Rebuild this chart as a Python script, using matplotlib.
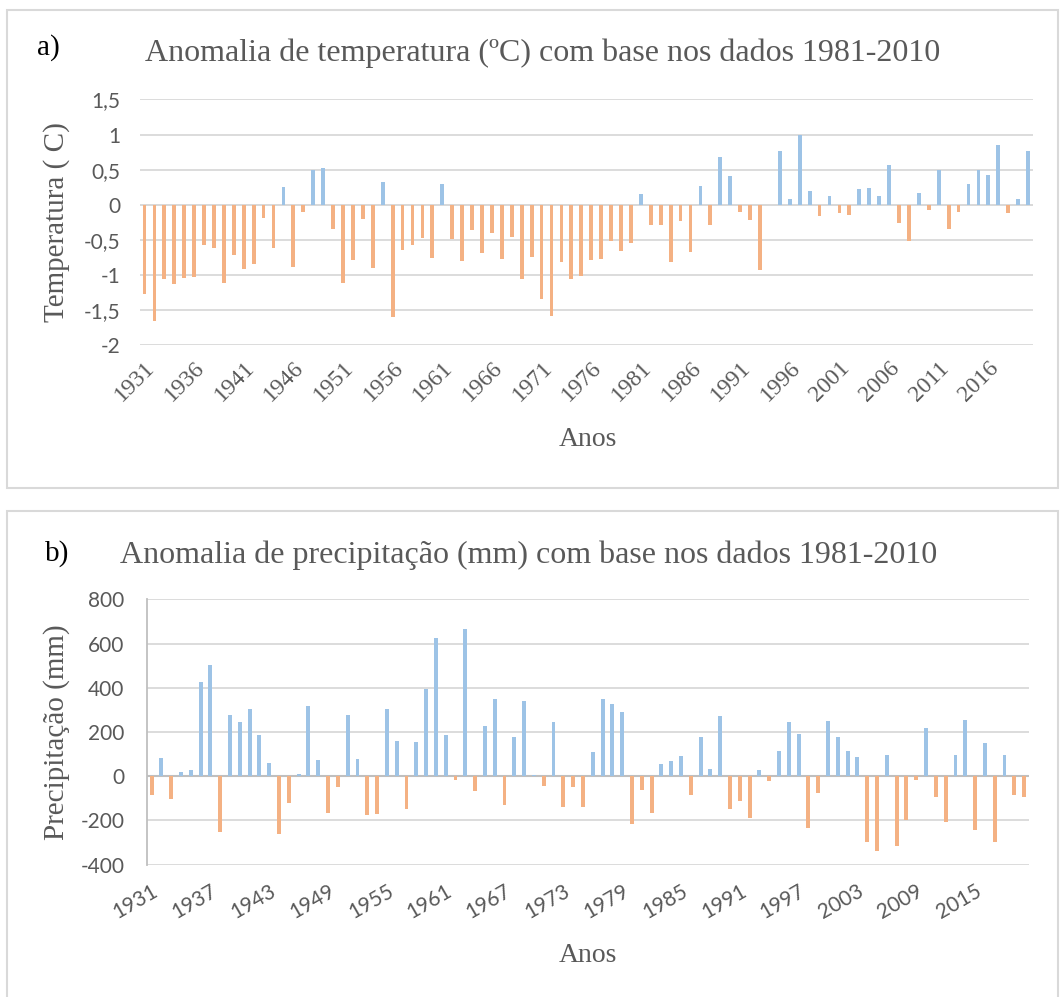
import matplotlib
matplotlib.use("Agg")
import matplotlib.pyplot as plt
from matplotlib.patches import Rectangle

# anomaly data, one value per year 1931-2020
years = list(range(1931, 2021))

temp_anom = [
    -1.27, -1.66, -1.06, -1.13, -1.04, -1.03, -0.57, -0.62, -1.12, -0.72,  # 1931-1940
    -0.92, -0.85, -0.19, -0.62, 0.25, -0.89, -0.10, 0.49, 0.52, -0.35,     # 1941-1950
    -1.11, -0.79, -0.20, -0.90, 0.33, -1.60, -0.65, -0.57, -0.47, -0.76,   # 1951-1960
    0.29, -0.49, -0.80, -0.36, -0.69, -0.40, -0.77, -0.46, -1.06, -0.75,   # 1961-1970
    -1.34, -1.59, -0.82, -1.06, -1.02, -0.79, -0.77, -0.52, -0.66, -0.55,  # 1971-1980
    0.15, -0.29, -0.29, -0.82, -0.23, -0.67, 0.26, -0.29, 0.68, 0.41,      # 1981-1990
    -0.10, -0.22, -0.93, 0.0, 0.76, 0.08, 1.00, 0.19, -0.16, 0.13,         # 1991-2000
    -0.12, -0.15, 0.23, 0.24, 0.12, 0.56, -0.26, -0.52, 0.16, -0.08,       # 2001-2010
    0.49, -0.35, -0.10, 0.30, 0.49, 0.42, 0.85, -0.12, 0.08, 0.76,         # 2011-2020
]

precip_anom = [
    -87, 84, -101, 21, 27, 427, 504, -250, 275, 244,        # 1931-1940
    304, 187, 59, -263, -119, 11, 316, 74, -164, -47,       # 1941-1950
    278, 77, -177, -173, 304, 159, -150, 155, 396, 627,     # 1951-1960
    185, -15, 665, -69, 229, 349, -128, 179, 338, 6,        # 1961-1970
    -42, 244, -137, -47, -137, 110, 349, 326, 292, -214,    # 1971-1980
    -60, -168, 56, 71, 90, -87, 177, 33, 272, -146,         # 1981-1990
    -110, -188, 29, -20, 114, 244, 191, -232, -78, 248,     # 1991-2000
    177, 114, 87, -299, -340, 96, -317, -200, -15, 220,     # 2001-2010
    -92, -205, 96, 254, -241, 149, -299, 96, -87, -96,      # 2011-2020
]

temp_yticks = [1.5, 1, 0.5, 0, -0.5, -1, -1.5, -2]
temp_yticklabels = ["1,5", "1", "0,5", "0", "-0,5", "-1", "-1,5", "-2"]
precip_yticks = [800, 600, 400, 200, 0, -200, -400]

BLUE = "#9DC3E6"
ORANGE = "#F4B183"
GRID = "#D9D9D9"
TXT = "#595959"
SERIF = "Liberation Serif"
SANS = "Lato"

W, H = 1064, 997


def fx(px):
    return px / W


def fy(py):
    return 1 - py / H


def axes_at(fig, left, top, right, bottom):
    return fig.add_axes([fx(left), fy(bottom), fx(right) - fx(left), (bottom - top) / H])


def bar_colors(vals):
    return [BLUE if v >= 0 else ORANGE for v in vals]


fig = plt.figure(figsize=(W / 100, H / 100), dpi=100)

# panel frames
for top, bot in [(10, 488), (511, 1010)]:
    fig.patches.append(Rectangle((fx(7), fy(bot)), fx(1058) - fx(7), (bot - top) / H,
                                 transform=fig.transFigure, fill=False,
                                 edgecolor=GRID, linewidth=1.5))

# ---- panel a: temperature ----
left1, right1 = 139.5, 1033
ax1 = axes_at(fig, left1, 99.5, right1, 345)
ax1.bar(years, temp_anom, width=0.38, color=bar_colors(temp_anom), zorder=3)
ax1.set_xlim(1930.5, 2020.5)
ax1.set_ylim(-2, 1.5)
ax1.set_yticks(temp_yticks)
ax1.set_yticklabels(temp_yticklabels, fontfamily=SANS, fontsize=15, color=TXT)
ax1.yaxis.grid(True, color=GRID, linewidth=1.3, zorder=0)
ax1.axhline(0, color=GRID, linewidth=1.3, zorder=1)
ax1.set_xticks(years[::5])
ax1.set_xticklabels([str(y) for y in years[::5]], rotation=45, ha="right",
                    rotation_mode="anchor", fontfamily=SERIF, fontsize=17, color=TXT)
ax1.tick_params(axis="x", length=0, pad=9)
ax1.tick_params(axis="y", length=0, pad=14)
for s in ax1.spines.values():
    s.set_visible(False)
ax1.set_ylabel("Temperatura ( C)", fontfamily=SERIF, fontsize=21, color=TXT)
ax1.yaxis.set_label_coords((70 - left1) / (right1 - left1), 0.5)

fig.text(fx(37), fy(55), "a)", fontfamily=SERIF, fontsize=21, color="black", va="baseline")
fig.text(fx(145), fy(61), "Anomalia de temperatura (ºC) com base nos dados 1981-2010",
         fontfamily=SERIF, fontsize=23, color=TXT, va="baseline")
fig.text(fx(588), fy(440), "Anos", fontfamily=SERIF, fontsize=20, color=TXT,
         ha="center", va="center")

# ---- panel b: precipitation ----
left2, right2 = 146.7, 1029
ax2 = axes_at(fig, left2, 599.3, right2, 864.7)
ax2.bar(years, precip_anom, width=0.4, color=bar_colors(precip_anom), zorder=3)
ax2.set_xlim(1930.5, 2020.5)
ax2.set_ylim(-400, 800)
ax2.set_yticks(precip_yticks)
ax2.set_yticklabels([str(v) for v in precip_yticks], fontfamily=SANS, fontsize=15, color=TXT)
ax2.yaxis.grid(True, color=GRID, linewidth=1.3, zorder=0)
ax2.axhline(0, color="#BFBFBF", linewidth=1.5, zorder=2)
ax2.set_xticks(years[::6])
ax2.set_xticklabels([str(y) for y in years[::6]], rotation=30, ha="right",
                    rotation_mode="anchor", fontfamily=SANS, fontsize=15, color=TXT)
ax2.tick_params(axis="x", length=0, pad=12)
ax2.tick_params(axis="y", length=0, pad=16)
for name, s in ax2.spines.items():
    s.set_visible(name == "left")
ax2.spines["left"].set_color("#BFBFBF")
ax2.spines["left"].set_linewidth(1.3)
ax2.set_ylabel("Precipitação (mm)", fontfamily=SERIF, fontsize=21, color=TXT)
ax2.yaxis.set_label_coords((70 - left2) / (right2 - left2), 0.5)

fig.text(fx(45), fy(561), "b)", fontfamily=SERIF, fontsize=21, color="black", va="baseline")
fig.text(fx(120), fy(563), "Anomalia de precipitação (mm) com base nos dados 1981-2010",
         fontfamily=SERIF, fontsize=23, color=TXT, va="baseline")
fig.text(fx(588), fy(955), "Anos", fontfamily=SERIF, fontsize=20, color=TXT,
         ha="center", va="center")

fig.savefig("out.png", dpi=100, facecolor="white")
